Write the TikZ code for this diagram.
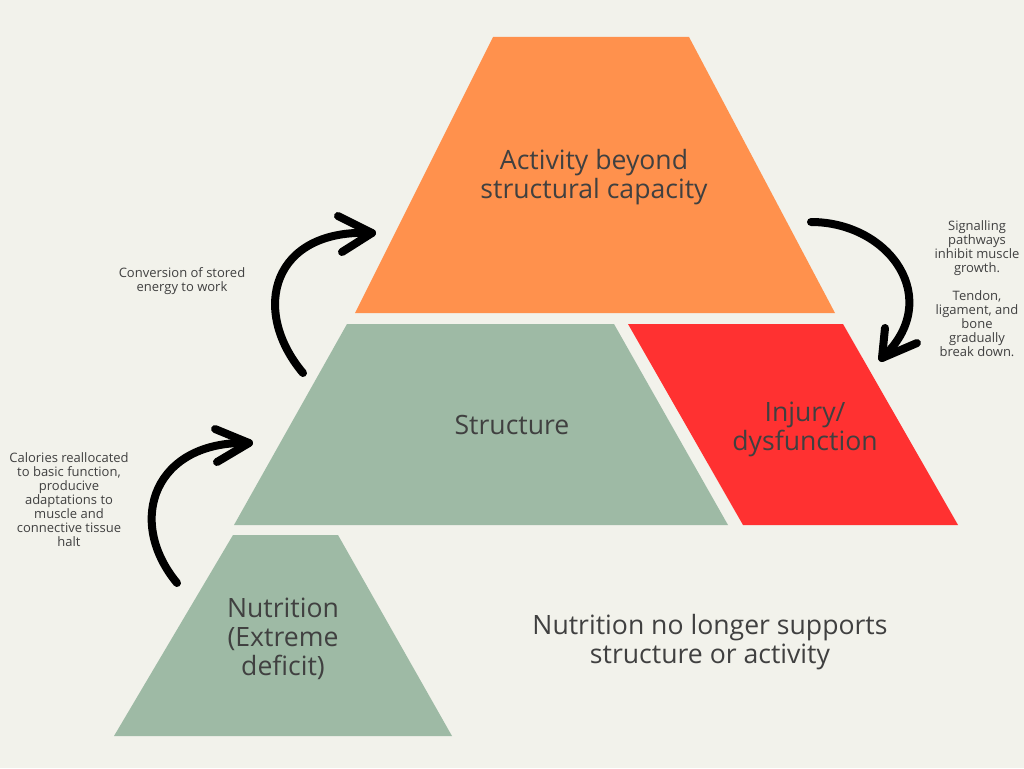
\documentclass[tikz,border=0pt]{standalone}
\usepackage{fontspec}
\setmainfont{Open Sans}
\usepackage{tikz}
\usetikzlibrary{positioning}
\definecolor{paper}{RGB}{242,242,235}
\definecolor{activityorange}{RGB}{255,145,77}
\definecolor{structgreen}{RGB}{158,186,165}
\definecolor{injuryred}{RGB}{255,49,49}
\definecolor{inkgrey}{RGB}{64,64,64}
\tikzset{
  bigtext/.style={text=inkgrey,align=center,inner sep=0pt,
    font=\fontsize{26.6}{29}\selectfont},
  smalltext/.style={text=inkgrey,align=center,inner sep=0pt,
    font=\fontsize{13}{14}\selectfont},
  brush/.style={line width=8pt,line cap=round,line join=round,draw=black}
}

\begin{document}
\begin{tikzpicture}[x=1pt,y=-1pt]
  \fill[paper] (0,0) rectangle (1024,768);
  \useasboundingbox (0,0) rectangle (1024,768);
  % blocks
  \fill[activityorange] (493,37) -- (689,37) -- (835,313) -- (355,313) -- cycle;
  \fill[structgreen] (347,324) -- (614,324) -- (728,525) -- (234,525) -- cycle;
  \fill[injuryred] (628,324) -- (843,324) -- (958,525) -- (743,525) -- cycle;
  \fill[structgreen] (233,535) -- (338,535) -- (452,736) -- (114,736) -- cycle;
  % block labels
  \node[bigtext] (activity) at (594,177) {Activity beyond\\structural capacity};
  \node[bigtext] (structure) at (512,425) {Structure};
  \node[bigtext] (injury) at (805,429) {Injury/\\dysfunction};
  \node[bigtext] (nutrition) at (283,639) {Nutrition\\(Extreme\\deficit)};
  \node[bigtext] (summary) at (710,642) {Nutrition no longer supports\\structure or activity};
  % notes
  \node[smalltext] (conversion) at (182,281) {Conversion of stored\\energy to work};
  \node[smalltext] (calories) at (69,500) {Calories reallocated\\to basic function,\\producive\\adaptations to\\muscle and\\connective tissue\\halt};
  \node[smalltext] (signalling) at (977,289) {Signalling\\pathways\\inhibit muscle\\growth.\\[14pt]Tendon,\\ligament, and\\bone\\gradually\\break down.};
  % arrows
  \coordinate (upA) at (303,373);
  \coordinate (upAtip) at (372,233);
  \draw[brush] (upA) .. controls (250,310) and (272,228) .. (upAtip);
  \draw[brush] (338,216) -- (upAtip) -- (342,252);
  \coordinate (upB) at (177,583);
  \coordinate (upBtip) at (249,443);
  \draw[brush] (upB) .. controls (125,520) and (155,440) .. (upBtip);
  \draw[brush] (215,429) -- (upBtip) -- (217,462);
  \coordinate (downC) at (811,222);
  \coordinate (downCtip) at (882,358);
  \draw[brush] (downC) .. controls (890,222) and (945,300) .. (downCtip);
  \draw[brush] (885,328) -- (downCtip) -- (917,343);
\end{tikzpicture}
\end{document}
